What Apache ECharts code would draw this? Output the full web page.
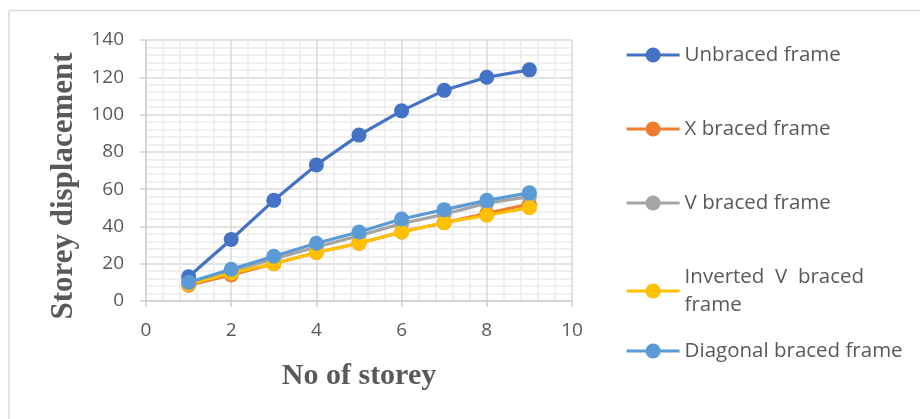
<!DOCTYPE html>
<html>
<head>
<meta charset="utf-8">
<script src="https://cdn.jsdelivr.net/npm/echarts@6/dist/echarts.min.js"></script>
<style>
  html, body { margin: 0; padding: 0; background: #fff; }
  #chart { width: 920px; height: 419px; }
</style>
</head>
<body>
<div id="chart"></div>
<script>
// Storey number along the x axis
const storeys = [1, 2, 3, 4, 5, 6, 7, 8, 9];

// Storey displacement for each frame type
const unbraced = [13, 33, 54, 73, 89, 102, 113, 120, 124];
const xBraced = [8.5, 14, 20, 26, 31, 37, 42, 47, 52];
const vBraced = [9.5, 16, 22.5, 29, 35, 41.5, 46.5, 52.5, 56];
const invertedV = [9, 15, 20, 26, 31, 37, 42, 46, 50];
const diagonal = [10, 17, 24, 31, 37, 44, 49, 54, 58];

const seriesNames = ['Unbraced frame', 'X braced frame', 'V braced frame', 'Inverted  V  braced frame', 'Diagonal braced frame'];
const seriesValues = [unbraced, xBraced, vBraced, invertedV, diagonal];
const seriesColors = ['#4472C4', '#ED7D31', '#A5A5A5', '#FFC000', '#5B9BD5'];

const yTicks = [0, 20, 40, 60, 80, 100, 120, 140];
const xTicks = [0, 2, 4, 6, 8, 10];

const labelFont = '"Open Sans", sans-serif';
const titleFont = '"Liberation Serif", "Times New Roman", serif';
const textGrey = '#595959';

const series = seriesNames.map((name, i) => ({
  name: name,
  type: 'line',
  data: storeys.map((s, k) => [s, seriesValues[i][k]]),
  symbol: 'circle',
  symbolSize: 15,
  showSymbol: true,
  color: seriesColors[i],
  lineStyle: { width: 3.2, color: seriesColors[i] },
  itemStyle: { color: seriesColors[i] },
  z: 2 + i,
  animation: false
}));

// One legend block per series so each entry sits on its own row
const legendRows = [55, 129, 203, 277, 351];
const legendItemHeight = 19;
const legends = seriesNames.map((name, i) => {
  const isTwoLine = i === 3;
  return {
    data: [name],
    left: 625,
    top: isTwoLine ? legendRows[i] - 14 - 14 : legendRows[i] - 14,
    orient: 'vertical',
    padding: 0,
    itemWidth: 53,
    itemHeight: legendItemHeight,
    selectedMode: false,
    lineStyle: { width: 3.2 },
    formatter: isTwoLine ? () => 'Inverted  V  braced\nframe' : undefined,
    textStyle: {
      fontFamily: labelFont,
      fontSize: 20.5,
      color: textGrey,
      lineHeight: 28,
      padding: isTwoLine ? [28, 0, 0, 0] : 0
    }
  };
});

const chart = echarts.init(document.getElementById('chart'), null, { renderer: 'canvas' });
chart.setOption({
  backgroundColor: '#ffffff',
  animation: false,
  grid: { left: 146, right: 348, top: 40, bottom: 118, containLabel: false },
  xAxis: {
    type: 'value',
    min: xTicks[0],
    max: xTicks[xTicks.length - 1],
    interval: 2,
    axisLine: { show: true, lineStyle: { color: '#d0d0d0', width: 1.5 } },
    axisTick: { show: true, length: 6, lineStyle: { color: '#d0d0d0', width: 1.5 } },
    axisLabel: { fontFamily: labelFont, fontSize: 19, color: textGrey, margin: 20 },
    splitLine: { show: true, lineStyle: { color: '#d9d9d9', width: 1.5 } },
    minorTick: { show: true, splitNumber: 5, length: 0 },
    minorSplitLine: { show: true, lineStyle: { color: '#ececec', width: 1.5 } }
  },
  yAxis: {
    type: 'value',
    min: yTicks[0],
    max: yTicks[yTicks.length - 1],
    interval: 20,
    axisLine: { show: true, lineStyle: { color: '#d0d0d0', width: 1.5 } },
    axisTick: { show: true, length: 6, lineStyle: { color: '#d0d0d0', width: 1.5 } },
    axisLabel: { fontFamily: labelFont, fontSize: 19, color: textGrey, margin: 22 },
    splitLine: { show: true, lineStyle: { color: '#d9d9d9', width: 1.5 } },
    minorTick: { show: true, splitNumber: 5, length: 0 },
    minorSplitLine: { show: true, lineStyle: { color: '#ececec', width: 1.5 } }
  },
  legend: legends,
  series: series,
  graphic: [
    // chart area border
    { type: 'line', shape: { x1: 9, y1: 10.5, x2: 920, y2: 10.5 }, style: { stroke: '#d9d9d9', lineWidth: 1.5 }, silent: true },
    { type: 'line', shape: { x1: 9, y1: 10.5, x2: 9, y2: 419 }, style: { stroke: '#d9d9d9', lineWidth: 1.5 }, silent: true },
    // axis titles
    {
      type: 'text', x: 359, y: 376,
      style: { text: 'No of storey', font: 'bold 30px ' + titleFont, fill: textGrey, align: 'center', verticalAlign: 'middle' },
      silent: true
    },
    {
      type: 'text', x: 64, y: 186, rotation: Math.PI / 2,
      style: { text: 'Storey displacement', font: 'bold 31px ' + titleFont, fill: textGrey, align: 'center', verticalAlign: 'middle' },
      silent: true
    }
  ]
});
</script>
</body>
</html>
